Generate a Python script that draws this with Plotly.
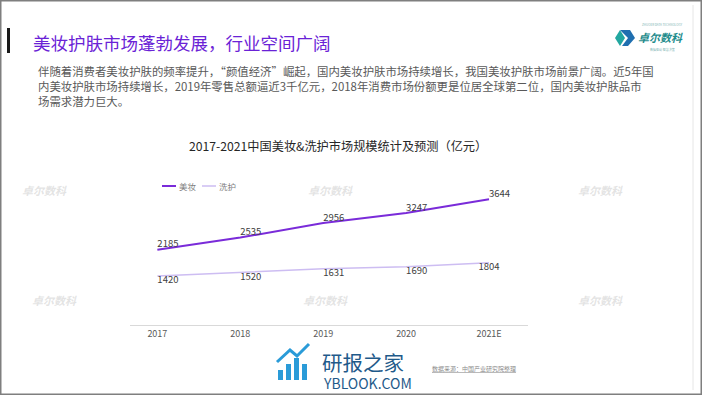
import plotly.graph_objects as go

years = ["2017", "2018", "2019", "2020", "2021E"]
meizhuang = [2185, 2535, 2956, 3247, 3644]
xihu = [1420, 1520, 1631, 1690, 1804]
series_names = ["美妆", "洗护"]
series_colors = ["#7A2BD9", "#CDBDF2"]

FONT = "Noto Sans CJK SC"
W, H = 702, 395

fig = go.Figure()
fig.add_trace(go.Scatter(
    x=years, y=meizhuang, name=series_names[0], mode="lines+text",
    line=dict(color=series_colors[0], width=2),
    text=[str(v) for v in meizhuang], textposition="top right",
    textfont=dict(size=9.5, color="#404040", family=FONT),
    cliponaxis=False, hoverinfo="skip",
))
fig.add_trace(go.Scatter(
    x=years, y=xihu, name=series_names[1], mode="lines+text",
    line=dict(color=series_colors[1], width=1.5),
    text=[str(v) for v in xihu],
    textposition=["bottom right", "bottom right", "bottom right", "bottom right", "bottom center"],
    textfont=dict(size=9.5, color="#404040", family=FONT),
    cliponaxis=False, hoverinfo="skip",
))

def px(x):
    return x / W

def py(y):
    return 1 - y / H

fig.update_layout(
    width=W, height=H,
    margin=dict(l=0, r=0, t=0, b=0),
    paper_bgcolor="white", plot_bgcolor="white",
    font=dict(family=FONT, color="#404040"),
    showlegend=False,
    xaxis=dict(domain=[px(130), px(528)], range=[-0.33, 4.47], showgrid=False,
               showline=True, linecolor="#D9D9D9", linewidth=1, ticks="",
               tickfont=dict(size=9, color="#595959", family=FONT), zeroline=False),
    yaxis=dict(domain=[py(325), py(180)], range=[0, 4205], visible=False),
)

ann = []
shapes = []
# header
ann.append(dict(x=px(31), y=py(42), xref="paper", yref="paper", xanchor="left", yanchor="middle",
                text="美妆护肤市场蓬勃发展，行业空间广阔", showarrow=False,
                font=dict(size=17.5, color="#6A22D6", family=FONT)))
para = ["伴随着消费者美妆护肤的频率提升，“颜值经济”崛起，国内美妆护肤市场持续增长，我国美妆护肤市场前景广阔。近5年国",
        "内美妆护肤市场持续增长，2019年零售总额逼近3千亿元，2018年消费市场份额更是位居全球第二位，国内美妆护肤品市",
        "场需求潜力巨大。"]
ann.append(dict(x=px(36), y=py(86), xref="paper", yref="paper", xanchor="left", yanchor="middle", align="left",
                text="<br>".join(para), showarrow=False, font=dict(size=11.4, color="#595959", family=FONT)))
# chart title
ann.append(dict(x=px(338), y=py(146), xref="paper", yref="paper", xanchor="center", yanchor="middle",
                text="2017-2021中国美妆&洗护市场规模统计及预测（亿元）", showarrow=False,
                font=dict(size=12.2, color="#262626", family=FONT)))
# manual legend
for i, (nm, col) in enumerate(zip(series_names, series_colors)):
    x0 = 162 + 40 * i
    shapes.append(dict(type="line", xref="paper", yref="paper", x0=px(x0), x1=px(x0 + 14), y0=py(186), y1=py(186),
                       line=dict(color=col, width=2 if i == 0 else 1.5)))
    ann.append(dict(x=px(x0 + 15), y=py(186), xref="paper", yref="paper", xanchor="left", yanchor="middle",
                    text=nm, showarrow=False, font=dict(size=8.5, color="#7F7F7F", family=FONT)))
# logo
ann.append(dict(x=px(636), y=py(37), xref="paper", yref="paper", xanchor="left", yanchor="middle",
                text="<b><i>卓尔数科</i></b>", showarrow=False, font=dict(size=11, color="#1E8C8C", family=FONT)))
ann.append(dict(x=px(662), y=py(25), xref="paper", yref="paper", xanchor="center", yanchor="middle",
                text="ZHUOER DATA TECHNOLOGY", showarrow=False, font=dict(size=3, color="#7FB5B5", family=FONT)))
ann.append(dict(x=px(662), y=py(49), xref="paper", yref="paper", xanchor="center", yanchor="middle",
                text="数据驱动 智慧决策", showarrow=False, font=dict(size=3, color="#7FB5B5", family=FONT)))
# source
ann.append(dict(x=px(430), y=py(368), xref="paper", yref="paper", xanchor="left", yanchor="middle",
                text="<u>数据来源：中国产业研究院整理</u>", showarrow=False, font=dict(size=6, color="#8C8C8C", family=FONT)))
# site watermark
ann.append(dict(x=px(320), y=py(344.5), xref="paper", yref="paper", xanchor="left", yanchor="top",
                text="研报之家", showarrow=False, font=dict(size=20.5, color="#1F5A8A", family=FONT)))
ann.append(dict(x=px(321), y=py(382.5), xref="paper", yref="paper", xanchor="left", yanchor="middle",
                text="YBLOOK.COM", showarrow=False, font=dict(size=14, color="#1F5A8A", family=FONT)))
# faint watermarks
for (wx, wy) in [(45, 190), (330, 190), (600, 190), (55, 300), (325, 300), (600, 300)]:
    ann.append(dict(x=px(wx), y=py(wy), xref="paper", yref="paper", xanchor="center", yanchor="middle",
                    text="<b><i>卓尔数科</i></b>", showarrow=False, font=dict(size=11, color="rgba(200,200,200,0.5)", family=FONT)))
fig.update_layout(annotations=ann)

# slide border
shapes.append(dict(type="rect", xref="paper", yref="paper", x0=0, y0=0, x1=1, y1=1,
                   line=dict(color="#7F7F7F", width=3), fillcolor="rgba(0,0,0,0)"))
shapes.append(dict(type="line", xref="paper", yref="paper", x0=px(693), x1=px(693), y0=py(390), y1=py(5),
                   line=dict(color="#E6E6E6", width=1)))
# header bar
shapes.append(dict(type="rect", xref="paper", yref="paper", x0=px(7), x1=px(10), y0=py(53), y1=py(28),
                   fillcolor="#1A1A1A", line=dict(width=0)))
# logo icon
shapes.append(dict(type="path", xref="paper", yref="paper",
                   path=f"M {px(620)},{py(30)} L {px(630)},{py(30)} L {px(635)},{py(38)} L {px(628)},{py(46)} L {px(622)},{py(46)} L {px(628)},{py(38)} Z",
                   fillcolor="#1F6FB0", line=dict(width=0)))
shapes.append(dict(type="path", xref="paper", yref="paper",
                   path=f"M {px(615)},{py(38)} L {px(620)},{py(30)} L {px(625)},{py(38)} L {px(620)},{py(46)} Z",
                   fillcolor="#22A7A0", line=dict(width=0)))
# site icon (bars + arrow)
for (bx, bh) in [(278, 10), (286, 16), (294, 22), (302, 16)]:
    shapes.append(dict(type="rect", xref="paper", yref="paper", x0=px(bx), x1=px(bx + 5), y0=py(380), y1=py(380 - bh),
                       fillcolor="#2A9BD8", line=dict(width=0)))
shapes.append(dict(type="path", xref="paper", yref="paper",
                   path=f"M {px(277)},{py(362)} L {px(290)},{py(350)} L {px(297)},{py(356)} L {px(309)},{py(344)}",
                   line=dict(color="#2A9BD8", width=3)))
fig.update_layout(shapes=shapes)

fig.write_html("out.html", config={"displayModeBar": False},
               post_script="document.body.style.margin='0';document.body.style.overflow='hidden';")
